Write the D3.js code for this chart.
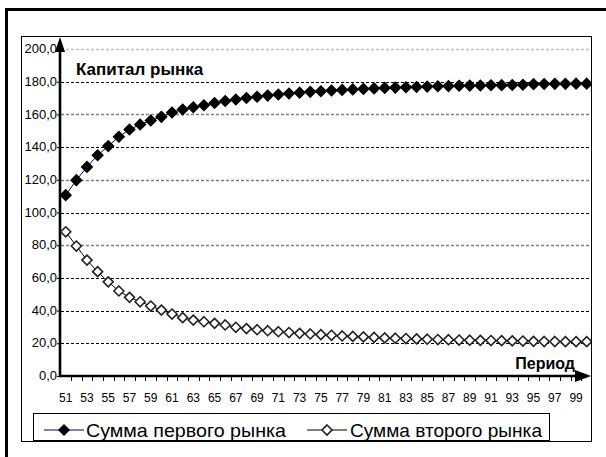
<!DOCTYPE html>
<html lang="ru">
<head>
  <meta charset="UTF-8">
  <title>Капитал рынка</title>
  <script src="https://d3js.org/d3.v7.min.js"></script>
  <style>
    body { margin: 0; background: #fff; }
    text { font-family: "Liberation Sans", Arial, sans-serif; fill: #000; }
  </style>
</head>
<body>
  <div id="chart"></div>

  <script>
    // periods 51..100
    const periods = d3.range(51, 101);

    const firstMarket = [
      110.6, 119.8, 127.9, 135.0, 140.6, 146.3, 150.8, 153.8, 156.3, 158.5,
      161.2, 163.0, 164.4, 165.6, 167.0, 168.2, 169.1, 170.0, 170.8, 171.5,
      172.2, 172.8, 173.3, 173.8, 174.2, 174.6, 175.0, 175.3, 175.6, 175.9,
      176.2, 176.4, 176.6, 176.8, 177.0, 177.2, 177.3, 177.5, 177.6, 177.7,
      177.8, 177.9, 178.0, 178.1, 178.5, 178.6, 178.7, 178.7, 178.8, 178.8
    ];

    const secondMarket = [
      88.2, 79.5, 70.9, 63.8, 57.6, 52.0, 48.1, 45.4, 42.8, 40.3,
      37.9, 35.7, 34.2, 33.2, 32.2, 31.2, 29.8, 29.0, 28.3, 27.7,
      27.1, 26.6, 26.1, 25.7, 25.3, 24.9, 24.5, 24.2, 23.9, 23.6,
      23.3, 23.1, 22.9, 22.7, 22.5, 22.3, 22.2, 22.0, 21.9, 21.8,
      21.7, 21.6, 21.5, 21.4, 21.2, 21.1, 21.1, 21.0, 21.0, 21.0
    ];

    const yTicks = [0, 20, 40, 60, 80, 100, 120, 140, 160, 180, 200];
    const xLabels = periods.filter(p => p % 2 === 1);
    const seriesNames = ["Сумма первого рынка", "Сумма второго рынка"];

    const width = 606, height = 457;

    const svg = d3.select("#chart").append("svg")
      .attr("width", width)
      .attr("height", height);

    // outer thick frame (runs past the window on right and bottom)
    svg.append("rect")
      .attr("x", 6.5).attr("y", 9.5)
      .attr("width", 640).attr("height", 500)
      .attr("fill", "none").attr("stroke", "#000").attr("stroke-width", 3);

    // chart area border
    svg.append("rect")
      .attr("x", 21.5).attr("y", 36.5)
      .attr("width", 570).attr("height", 405)
      .attr("fill", "#fff").attr("stroke", "#000").attr("stroke-width", 1);

    const x = d3.scaleBand()
      .domain(periods)
      .range([60.4, 592])
      .padding(0);

    const y = d3.scaleLinear()
      .domain([0, 200])
      .range([376, 49]);

    const cx = p => x(p) + x.bandwidth() / 2;

    const plot = svg.append("g");

    // gridlines
    plot.selectAll(".grid")
      .data(yTicks.filter(v => v > 0))
      .enter().append("line")
      .attr("x1", 61).attr("x2", 591)
      .attr("y1", d => Math.round(y(d)) + 0.5)
      .attr("y2", d => Math.round(y(d)) + 0.5)
      .attr("stroke", d => d === 200 ? "#c0c0c0" : (d >= 60 && (d / 20) % 2 === 0 ? "#808080" : "#000"))
      .attr("stroke-width", d => (d >= 60 && (d / 20) % 2 === 0) || d === 200 ? 1.4 : 1)
      .attr("stroke-dasharray", "3,2");

    // y axis labels + ticks
    const yAxis = d3.axisLeft(y)
      .tickValues(yTicks)
      .tickSize(3)
      .tickFormat(d => d3.format(".1f")(d).replace(".", ","));

    const gy = svg.append("g")
      .attr("transform", "translate(60,0)")
      .call(yAxis);
    gy.select(".domain").remove();
    gy.selectAll("text")
      .attr("x", -3)
      .attr("dy", "0.28em")
      .style("font-size", "13px")
      .style("font-family", "'Liberation Sans', Arial, sans-serif")
      .attr("fill", "#000");

    // x axis labels + ticks
    const xAxis = d3.axisBottom(x)
      .tickValues(xLabels)
      .tickSize(0)
      .tickPadding(17);
    const gx = svg.append("g")
      .attr("transform", "translate(0,376)")
      .call(xAxis);
    gx.select(".domain").remove();
    gx.selectAll("text")
      .style("font-size", "12px")
      .style("font-family", "'Liberation Sans', Arial, sans-serif")
      .attr("fill", "#000");

    svg.append("g").selectAll("line")
      .data(periods.slice(1))
      .enter().append("line")
      .attr("x1", d => Math.round(x(d)) + 0.5)
      .attr("x2", d => Math.round(x(d)) + 0.5)
      .attr("y1", 376).attr("y2", 381)
      .attr("stroke", "#000");

    // axis arrows
    svg.append("line")
      .attr("x1", 60).attr("x2", 60)
      .attr("y1", 377).attr("y2", 50)
      .attr("stroke", "#000").attr("stroke-width", 2.6);
    svg.append("path")
      .attr("d", "M60,37 L65,52 L55,52 Z")
      .attr("fill", "#000");

    svg.append("line")
      .attr("x1", 59).attr("x2", 578)
      .attr("y1", 376).attr("y2", 376)
      .attr("stroke", "#000").attr("stroke-width", 2.6);
    svg.append("path")
      .attr("d", "M591,376 L575,370 L575,382 Z")
      .attr("fill", "#000");

    // series lines
    const line = d3.line()
      .x((d, i) => cx(periods[i]))
      .y(d => y(d));

    svg.append("path")
      .datum(secondMarket)
      .attr("d", line)
      .attr("fill", "none")
      .attr("stroke", "#000")
      .attr("stroke-width", 1);

    svg.append("path")
      .datum(firstMarket)
      .attr("d", line)
      .attr("fill", "none")
      .attr("stroke", "#000080")
      .attr("stroke-width", 1);

    const diamond = (px, py, r) =>
      `M${px},${py - r} L${px + r},${py} L${px},${py + r} L${px - r},${py} Z`;

    svg.append("clipPath").attr("id", "area")
      .append("rect").attr("x", 22).attr("y", 37).attr("width", 569).attr("height", 404);

    svg.append("g").attr("clip-path", "url(#area)")
      .selectAll("path")
      .data(secondMarket)
      .enter().append("path")
      .attr("d", (d, i) => diamond(cx(periods[i]), y(d), 5))
      .attr("fill", "#fff")
      .attr("stroke", "#222")
      .attr("stroke-width", 1.6);

    svg.append("g").attr("clip-path", "url(#area)")
      .selectAll("path")
      .data(firstMarket)
      .enter().append("path")
      .attr("d", (d, i) => diamond(cx(periods[i]), y(d), 6.3))
      .attr("fill", "#000");

    // titles
    svg.append("text")
      .attr("x", 76).attr("y", 75)
      .style("font-size", "17px")
      .style("font-weight", "bold")
      .text("Капитал рынка");

    svg.append("text")
      .attr("x", 575).attr("y", 369)
      .attr("text-anchor", "end")
      .style("font-size", "16px")
      .style("font-weight", "bold")
      .text("Период");

    // legend
    const lg = svg.append("g");
    lg.append("rect")
      .attr("x", 33.5).attr("y", 413.5)
      .attr("width", 516).attr("height", 27)
      .attr("fill", "#fff").attr("stroke", "#000");

    const entries = [
      { x0: 44, x1: 84, tx: 86, len: 200, color: "#000080", filled: true },
      { x0: 307, x1: 347, tx: 350, len: 192, color: "#000", filled: false }
    ];

    entries.forEach((e, i) => {
      lg.append("line")
        .attr("x1", e.x0).attr("x2", e.x1)
        .attr("y1", 430).attr("y2", 430)
        .attr("stroke", e.color).attr("stroke-width", 1.2);
      lg.append("path")
        .attr("d", diamond((e.x0 + e.x1) / 2, 430, e.filled ? 6 : 5))
        .attr("fill", e.filled ? "#000" : "#fff")
        .attr("stroke", e.filled ? "none" : "#222")
        .attr("stroke-width", 1.6);
      lg.append("text")
        .attr("x", e.tx).attr("y", 437)
        .attr("textLength", e.len)
        .attr("lengthAdjust", "spacingAndGlyphs")
        .style("font-size", "19px")
        .text(seriesNames[i]);
    });
  </script>
</body>
</html>
